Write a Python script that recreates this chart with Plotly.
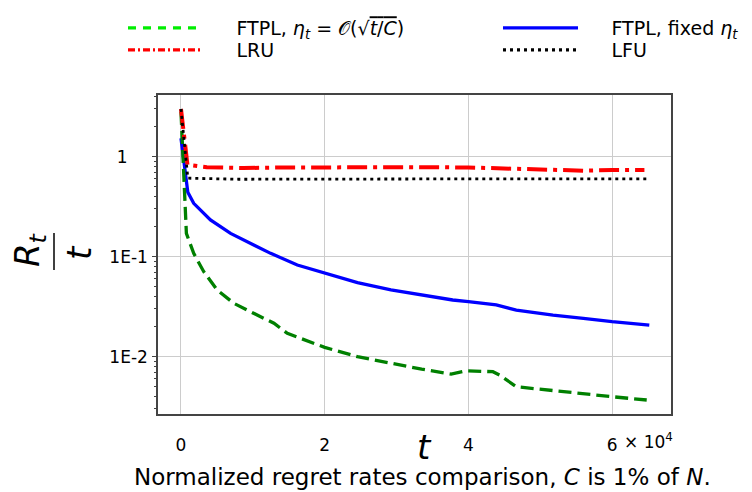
import plotly.graph_objects as go

# ---------------- data ----------------
t_lru = [0, 900, 3600, 8700, 14000, 20000, 27000, 34000, 40000, 44300, 47000, 52000, 56000, 60000, 64500]
r_lru = [3.0, 0.83, 0.785, 0.77, 0.78, 0.785, 0.79, 0.785, 0.78, 0.765, 0.75, 0.735, 0.725, 0.735, 0.735]

t_lfu = [0, 950, 8000, 20000, 40000, 65000]
r_lfu = [3.0, 0.61, 0.595, 0.6, 0.6, 0.6]

t_fixed = [0, 950, 1770, 4100, 6900, 9200, 12480, 16190, 20000, 24560, 29220, 33500,
           37820, 40000, 43880, 46670, 51780, 56000, 60000, 65180]
r_fixed = [1.53, 0.44, 0.342, 0.233, 0.171, 0.141, 0.108, 0.0826, 0.0682, 0.055, 0.0465, 0.0413,
           0.0369, 0.0355, 0.0329, 0.0293, 0.0261, 0.0242, 0.0224, 0.0207]

t_adapt = [0, 750, 1770, 3170, 5020, 7360, 10600, 12940, 14800, 20000, 24560, 33500,
           37600, 39700, 43410, 44340, 46670, 51780, 60000, 64820]
r_adapt = [2.8, 0.171, 0.108, 0.0708, 0.0465, 0.0342, 0.0261, 0.0216, 0.0171, 0.0124, 0.01, 0.0075,
           0.00671, 0.00724, 0.00708, 0.00656, 0.00501, 0.00457, 0.00398, 0.00369]

x_tickvals = [0, 20000, 40000, 60000]
x_ticktext = ["0", "2", "4", "6"]
y_tickvals = [1, 0.1, 0.01]
y_ticktext = ["1\u2003\u2009", "1E-1", "1E-2"]

GAP = "\u2003\u2002"
name_adapt = GAP + "FTPL, <i>η<sub>t</sub></i> = 𝒪(√<span style='text-decoration:overline'><i>t</i>/<i>C</i></span>)"
name_fixed = GAP + "FTPL, fixed <i>η<sub>t</sub></i>"
name_lru = GAP + "LRU"
name_lfu = GAP + "LFU"

FONT = "DejaVu Sans"

fig = go.Figure()

# plotted curves
fig.add_trace(go.Scatter(x=t_fixed, y=r_fixed, mode="lines", showlegend=False,
                         line=dict(color="#0000ff", width=3.3)))
fig.add_trace(go.Scatter(x=t_adapt, y=r_adapt, mode="lines", showlegend=False,
                         line=dict(color="#008000", width=3.3, dash="13px,6px")))
fig.add_trace(go.Scatter(x=t_lru, y=r_lru, mode="lines", showlegend=False,
                         line=dict(color="#ff0000", width=4, dash="20px,6px,4px,6px")))
fig.add_trace(go.Scatter(x=t_lfu, y=r_lfu, mode="lines", showlegend=False,
                         line=dict(color="#000000", width=2.8, dash="3px,4px")))

# legend entries (legend colours as in the reference)
fig.add_trace(go.Scatter(x=[None], y=[None], mode="lines", name=name_adapt, legend="legend",
                         line=dict(color="#00ee00", width=3.3, dash="8px,7px")))
fig.add_trace(go.Scatter(x=[None], y=[None], mode="lines", name=name_lru, legend="legend2",
                         line=dict(color="#ff0000", width=3.3, dash="7px,3px,2px,3px")))
fig.add_trace(go.Scatter(x=[None], y=[None], mode="lines", name=name_fixed, legend="legend3",
                         line=dict(color="#0000ff", width=3.3)))
fig.add_trace(go.Scatter(x=[None], y=[None], mode="lines", name=name_lfu, legend="legend4",
                         line=dict(color="#000000", width=3.3, dash="3px,4px")))

minor_vals = []
for d in [0.001, 0.01, 0.1, 1]:
    for k in range(2, 10):
        minor_vals.append(k * d)

# page offset of the figure inside the browser page
OFF = 8
W, H = 752 - OFF, 492 - OFF
PL, PR, PT, PB = 158, 671, 95, 414          # plot box in window pixels
ML, MR, MT, MB = PL - OFF, W - (PR - OFF), PT - OFF, H - (PB - OFF)
PW, PH = W - ML - MR, H - MT - MB


def px(xp):
    return (xp - PL) / PW


def py(yp):
    return (PB - yp) / PH


def leg(x, y):
    return dict(orientation="v", x=px(x), y=py(y), xanchor="left", yanchor="middle",
                font=dict(size=19), itemwidth=75, tracegroupgap=0,
                bgcolor="rgba(0,0,0,0)", borderwidth=0)


fig.update_layout(
    width=W, height=H,
    margin=dict(l=ML, r=MR, t=MT, b=MB, autoexpand=False),
    paper_bgcolor="white", plot_bgcolor="white",
    font=dict(family=FONT, size=17, color="black"),
    legend=leg(123, 28), legend2=leg(123, 50),
    legend3=leg(498, 28), legend4=leg(498, 50),
    xaxis=dict(range=[-3200, 68200], tickvals=x_tickvals, ticktext=x_ticktext, ticks="",
               showgrid=True, gridcolor="#cccccc", gridwidth=1.3, zeroline=False,
               showline=True, linecolor="#444444", linewidth=1.5, mirror=True,
               ticklabelstandoff=15, tickfont=dict(size=17)),
    yaxis=dict(type="log", range=[-2.573, 0.617], tickvals=y_tickvals, ticktext=y_ticktext,
               ticks="outside", ticklen=4, tickcolor="#444444", tickwidth=1,
               showgrid=True, gridcolor="#cccccc", gridwidth=1.3, zeroline=False,
               showline=True, linecolor="#444444", linewidth=1.5, mirror=True,
               tickfont=dict(size=17), ticklabelstandoff=1,
               minor=dict(ticks="outside", ticklen=2, tickcolor="#444444", tickwidth=1,
                          tickmode="array", tickvals=minor_vals, showgrid=False)),
)

annotations = [
    # x-axis multiplier next to the last tick label
    dict(x=60000, xref="x", y=py(441), yref="paper", text="× 10<sup>4</sup>",
         showarrow=False, xanchor="left", yanchor="middle", xshift=10, font=dict(size=17)),
    # x-axis title
    dict(x=px(424), y=py(447), xref="paper", yref="paper", text="<i>t</i>", showarrow=False,
         xanchor="center", yanchor="middle", font=dict(size=34)),
    # y-axis title as a fraction R_t / t
    dict(x=px(29), y=py(250), xref="paper", yref="paper", text="<i>R<sub>t</sub></i>",
         showarrow=False, textangle=-90, xanchor="center", yanchor="middle", font=dict(size=34)),
    dict(x=px(79), y=py(253), xref="paper", yref="paper", text="<i>t</i>",
         showarrow=False, textangle=-90, xanchor="center", yanchor="middle", font=dict(size=34)),
    # caption
    dict(x=px(422), y=py(477), xref="paper", yref="paper",
         text="Normalized regret rates comparison, <i>C</i> is 1% of <i>N</i>.",
         showarrow=False, xanchor="center", yanchor="middle", font=dict(size=23)),
]
fig.update_layout(annotations=annotations)

fig.add_shape(type="line", xref="paper", yref="paper", x0=px(54), x1=px(54), y0=py(233), y1=py(270),
              line=dict(color="black", width=1.5))

fig.write_html("out.html")
